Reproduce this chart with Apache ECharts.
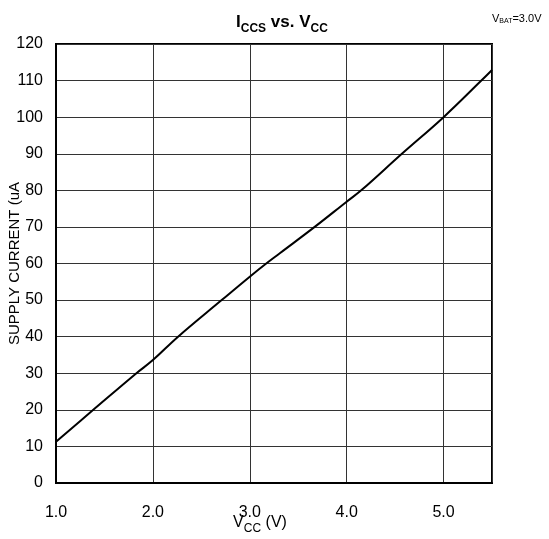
<!DOCTYPE html>
<html><head><meta charset="utf-8">
<script src="https://cdn.jsdelivr.net/npm/echarts@6/dist/echarts.min.js"></script>
<style>html,body{margin:0;padding:0;background:#fff}#c{width:549px;height:539px}</style>
</head><body><div id="c"></div>
<script>
const vcc = [1.0, 1.385, 1.83, 2.0, 2.26, 2.71, 3.0, 3.17, 3.31, 3.67, 4.0, 4.15, 4.57, 5.0, 5.39, 5.5];
const iccs = [11.3, 20, 30, 33.6, 40, 50, 56.4, 60, 62.8, 70, 76.9, 80, 90, 100, 110, 112.9];
const xTicks = ['1.0', '2.0', '3.0', '4.0', '5.0'];
const yTicks = [0, 10, 20, 30, 40, 50, 60, 70, 80, 90, 100, 110, 120];

const FONT = '"Liberation Sans", Arial, sans-serif';
const chart = echarts.init(document.getElementById('c'), null, {renderer: 'canvas'});
chart.setOption({
  animation: false,
  backgroundColor: '#fff',
  textStyle: {fontFamily: FONT, color: '#000'},
  title: [{
    text: '{a|I}{s|CCS}{a| vs. V}{s|CC}',
    left: 231, top: 4,
    textStyle: {
      fontFamily: FONT,
      rich: {
        a: {fontFamily: FONT, fontSize: 17, fontWeight: 'bold', color: '#000', lineHeight: 22, verticalAlign: 'bottom'},
        s: {fontFamily: FONT, fontSize: 12, fontWeight: 'bold', color: '#000', lineHeight: 16, verticalAlign: 'bottom', padding: [0, 0, -4, 0]}
      }
    }
  }, {
    text: '{a|V}{s|BAT}{a|=3.0V}',
    left: 487, top: 5,
    textStyle: {
      fontFamily: FONT, fontWeight: 'normal',
      rich: {
        a: {fontFamily: FONT, fontSize: 11, fontWeight: 'normal', color: '#000', lineHeight: 14, verticalAlign: 'bottom'},
        s: {fontFamily: FONT, fontSize: 7, fontWeight: 'normal', color: '#000', lineHeight: 10, verticalAlign: 'bottom', padding: [0, 0, -1, 0]}
      }
    }
  }],
  grid: {left: 56, right: 57, top: 44, bottom: 56, show: true, borderColor: '#000', borderWidth: 2, containLabel: false, outerBoundsMode: 'none'},
  xAxis: {
    type: 'value', min: 1, max: 5.5, interval: 1,
    name: '{a|V}{s|CC}{a| (V)}',
    nameLocation: 'middle', nameGap: 30, nameMoveOverlap: false,
    nameTextStyle: {
      padding: [0, 28, 0, 0],
      rich: {
        a: {fontFamily: FONT, fontSize: 16, color: '#000', lineHeight: 18, verticalAlign: 'bottom'},
        s: {fontFamily: FONT, fontSize: 12, color: '#000', lineHeight: 14, verticalAlign: 'bottom', padding: [0, 0, -4, 0]}
      }
    },
    axisLine: {show: true, onZero: false, lineStyle: {color: '#000', width: 2}},
    axisTick: {show: false},
    axisLabel: {
      margin: 22, fontSize: 16, color: '#000', fontFamily: FONT, showMaxLabel: false,
      formatter: v => { const i = Math.round(v) - 1; return (Math.abs(v - Math.round(v)) < 1e-9 && xTicks[i]) ? xTicks[i] : ''; }
    },
    splitLine: {show: true, lineStyle: {color: '#333', width: 1}}
  },
  yAxis: {
    type: 'value', min: 0, max: 120, interval: 10,
    name: 'SUPPLY CURRENT (uA',
    nameLocation: 'middle', nameGap: 34, nameRotate: 90, nameMoveOverlap: false,
    nameTextStyle: {fontSize: 15, color: '#000', fontFamily: FONT},
    axisLine: {show: true, lineStyle: {color: '#000', width: 2}},
    axisTick: {show: false},
    axisLabel: {margin: 13, fontSize: 16, color: '#000', fontFamily: FONT,
      formatter: v => yTicks.includes(v) ? String(v) : ''},
    splitLine: {show: true, lineStyle: {color: '#333', width: 1}}
  },
  series: [{
    type: 'line',
    data: vcc.map((x, i) => [x, iccs[i]]),
    showSymbol: false,
    smooth: 0.4,
    lineStyle: {color: '#000', width: 2},
    clip: true
  }]
});
</script></body></html>
